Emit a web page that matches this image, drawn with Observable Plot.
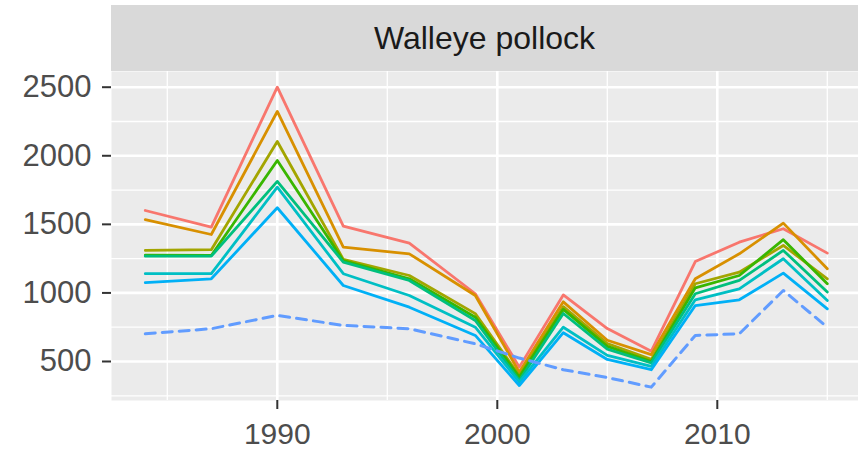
<!DOCTYPE html>
<html><head><meta charset="utf-8">
<script src="https://cdn.jsdelivr.net/npm/d3@7"></script>
<script src="https://cdn.jsdelivr.net/npm/@observablehq/plot@0.6"></script>
<style>
body{margin:0;background:#fff;font-family:"Liberation Sans",Arial,sans-serif;}
#wrap{position:relative;width:858px;height:451px;overflow:hidden;background:#fff;}
#chart{position:absolute;left:0;top:0;}
#strip{position:absolute;left:111px;top:5px;width:747px;height:66px;background:#D9D9D9;color:#1A1A1A;font-size:32px;display:flex;align-items:center;justify-content:center;z-index:2;}
</style></head>
<body>
<div id="wrap"><div id="chart"></div><div id="strip"></div></div>
<script>
const stripTitle = "Walleye pollock";
const years = [1984,1987,1990,1993,1996,1999,2001,2003,2005,2007,2009,2011,2013,2015];
const seriesNames = ["s1","s2","s3","s4","s5","s6","s7"];
const seriesColors = ["#F8766D","#D89000","#A3A500","#39B600","#00BF7D","#00BFC4","#00B0F6"];
const s1 = [1601,1480,2500,1487,1363,994,459,985,740,575,1229,1370,1468,1290];
const s2 = [1534,1426,2323,1334,1285,981,422,935,655,550,1103,1285,1509,1176];
const s3 = [1310,1315,2104,1245,1127,849,398,900,630,515,1067,1151,1346,1103];
const s4 = [1275,1273,1966,1235,1103,823,386,880,610,500,1037,1127,1388,1067];
const s5 = [1268,1268,1813,1225,1091,799,362,850,590,490,994,1091,1310,1006];
const s6 = [1140,1140,1771,1140,981,750,350,750,545,465,950,1030,1249,945];
const s7 = [1075,1103,1621,1054,896,690,325,710,515,440,908,950,1144,884];
const dashedSeries = [702,739,836,763,739,629,525,440,383,313,690,702,1018,750];
const dashedColor = "#619CFF";
const xTicks = [1990,2000,2010];
const xMinor = [1985,1995,2005,2015];
const yTicks = [500,1000,1500,2000,2500];
const yMinor = [250,750,1250,1750,2250];

document.getElementById("strip").textContent = stripTitle;

const allSeries = [s1,s2,s3,s4,s5,s6,s7];
const rows = [];
allSeries.forEach((vals, i) => vals.forEach((v, j) => rows.push({series: seriesNames[i], year: years[j], value: v})));
const dashedRows = dashedSeries.map((v, j) => ({year: years[j], value: v}));

const chart = Plot.plot({
  width: 858, height: 451,
  marginTop: 71, marginBottom: 51, marginLeft: 111, marginRight: 0,
  style: {fontFamily: "Liberation Sans, Arial, sans-serif", fontSize: "31px", background: "transparent"},
  x: {domain: [1982.464, 2016.418], axis: null},
  y: {domain: [215.6, 2614.5], axis: null},
  color: {domain: seriesNames, range: seriesColors},
  marks: [
    Plot.frame({fill: "#EBEBEB", stroke: null}),
    Plot.ruleY(yMinor, {stroke: "white", strokeWidth: 1.3}),
    Plot.ruleX(xMinor, {stroke: "white", strokeWidth: 1.3}),
    Plot.ruleY(yTicks, {stroke: "white", strokeWidth: 2.6}),
    Plot.ruleX(xTicks, {stroke: "white", strokeWidth: 2.6}),
    Plot.line(rows, {x: "year", y: "value", z: "series", stroke: "series", strokeWidth: 2.8}),
    Plot.line(dashedRows, {x: "year", y: "value", stroke: dashedColor, strokeWidth: 3, strokeDasharray: "10,7"}),
    Plot.axisY(yTicks, {anchor: "left", tickSize: 9, tickPadding: 11, fontSize: 31, stroke: "#333333", fill: "#4D4D4D", strokeWidth: 2, label: null, tickFormat: d => String(d)}),
    Plot.axisX(xTicks, {anchor: "bottom", tickSize: 9, tickPadding: 13, fontSize: 30, stroke: "#333333", fill: "#4D4D4D", strokeWidth: 2, label: null, tickFormat: d => String(d)})
  ]
});
document.getElementById("chart").appendChild(chart);
</script>
</body></html>
